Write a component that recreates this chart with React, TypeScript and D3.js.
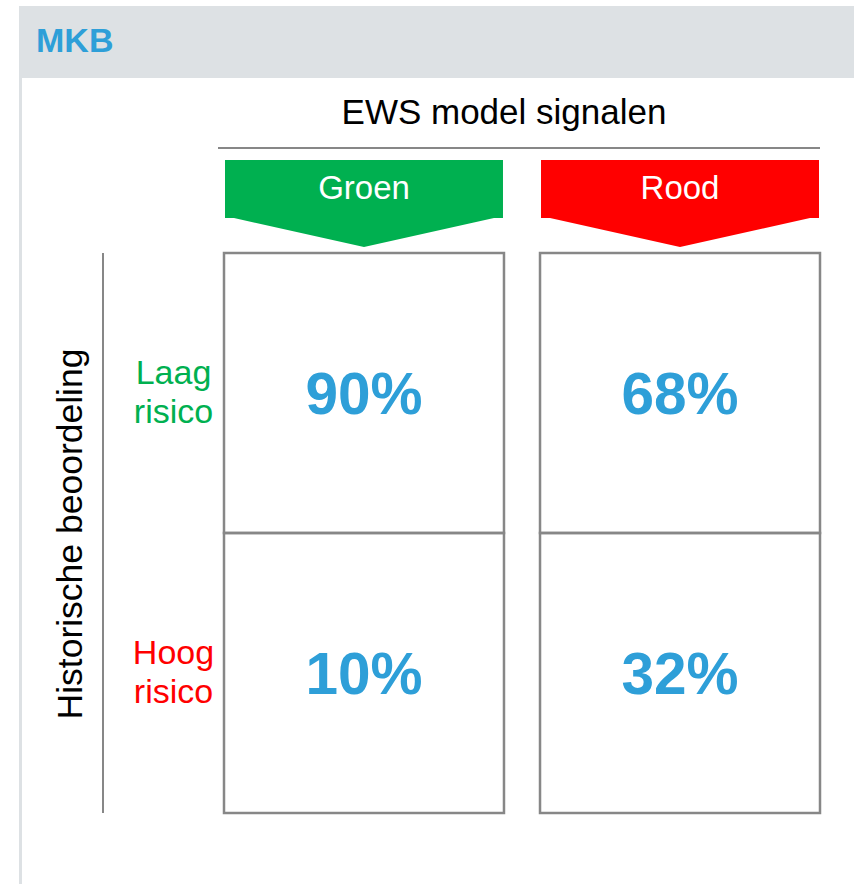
import React, { useEffect, useRef } from "react";
import * as d3 from "d3";

const title = "MKB";
const columnTitle = "EWS model signalen";
const rowTitle = "Historische beoordeling";
const columns = ["Groen", "Rood"];
const columnColors = ["#00b050", "#ff0000"];
const rows = ["Laag risico", "Hoog risico"];
const rowColors = ["#00b050", "#ff0000"];
const values = [
  [90, 68],
  [10, 32],
];

const App = () => {
  const svgRef = useRef<SVGSVGElement | null>(null);

  useEffect(() => {
    const width = 854;
    const height = 884;
    const font = "'Liberation Sans', Arial, sans-serif";
    const blue = "#2e9fd8";
    const grey = "#878787";

    const svg = d3.select(svgRef.current);
    svg.selectAll("*").remove();
    svg.attr("width", width).attr("height", height);

    // paneel achtergrond + kop
    svg.append("rect").attr("x", 0).attr("y", 0).attr("width", width).attr("height", height).attr("fill", "#fff");
    svg.append("rect").attr("x", 19).attr("y", 6).attr("width", width - 19).attr("height", 72).attr("fill", "#dde1e4");
    svg.append("rect").attr("x", 19).attr("y", 78).attr("width", 3).attr("height", height - 78).attr("fill", "#dde1e4");
    svg
      .append("text")
      .attr("x", 36)
      .attr("y", 52)
      .attr("font-family", font)
      .attr("font-weight", "bold")
      .attr("font-size", 34)
      .attr("fill", blue)
      .text(title);

    // schalen
    const x = d3.scaleBand().domain(columns).range([224, 820]).paddingInner(0.114);
    const y = d3.scaleBand().domain(rows).range([253, 813]).paddingInner(0);

    // kolomtitel
    svg
      .append("text")
      .attr("x", 504)
      .attr("y", 124)
      .attr("text-anchor", "middle")
      .attr("font-family", font)
      .attr("font-size", 35)
      .attr("fill", "#000")
      .text(columnTitle);
    svg
      .append("line")
      .attr("x1", 218)
      .attr("x2", 820)
      .attr("y1", 148)
      .attr("y2", 148)
      .attr("stroke", grey)
      .attr("stroke-width", 2);

    // pijlen
    const arrows = svg
      .selectAll(".arrow")
      .data(columns)
      .join("g")
      .attr("class", "arrow")
      .attr("transform", (d) => `translate(${x(d)},0)`);
    arrows
      .append("path")
      .attr("fill", (d, i) => columnColors[i])
      .attr("d", () => {
        const w = x.bandwidth();
        const p = d3.path();
        p.moveTo(1, 160);
        p.lineTo(w - 1, 160);
        p.lineTo(w - 1, 218);
        p.lineTo(w - 10, 218);
        p.lineTo(w / 2, 247);
        p.lineTo(10, 218);
        p.lineTo(1, 218);
        p.closePath();
        return p.toString();
      });
    arrows
      .append("text")
      .attr("x", x.bandwidth() / 2)
      .attr("y", 199)
      .attr("text-anchor", "middle")
      .attr("font-family", font)
      .attr("font-size", 33)
      .attr("fill", "#fff")
      .text((d) => d);

    // cellen
    const cells = rows.flatMap((r, ri) => columns.map((c, ci) => ({ r, c, v: values[ri][ci] })));
    const cell = svg
      .selectAll(".cell")
      .data(cells)
      .join("g")
      .attr("class", "cell")
      .attr("transform", (d) => `translate(${x(d.c)},${y(d.r)})`);
    cell
      .append("rect")
      .attr("width", x.bandwidth())
      .attr("height", y.bandwidth())
      .attr("fill", "none")
      .attr("stroke", grey)
      .attr("stroke-width", 2.5);
    cell
      .append("text")
      .attr("x", x.bandwidth() / 2)
      .attr("y", y.bandwidth() / 2)
      .attr("dy", "0.36em")
      .attr("text-anchor", "middle")
      .attr("font-family", font)
      .attr("font-weight", "bold")
      .attr("font-size", 58.5)
      .attr("fill", blue)
      .text((d) => `${d.v}%`);

    // rijlabels
    const rowLabel = svg
      .selectAll(".row-label")
      .data(rows)
      .join("text")
      .attr("class", "row-label")
      .attr("text-anchor", "middle")
      .attr("font-family", font)
      .attr("font-size", 34)
      .attr("fill", (d, i) => rowColors[i]);
    rowLabel
      .selectAll("tspan")
      .data((d) => d.split(" ").map((w) => ({ w, row: d })))
      .join("tspan")
      .attr("x", 173.5)
      .attr("y", (d, i) => (y(d.row) as number) + 131 + i * 39)
      .text((d) => d.w);

    // rijtitel + lijn
    svg
      .append("line")
      .attr("x1", 103)
      .attr("x2", 103)
      .attr("y1", 253)
      .attr("y2", 813)
      .attr("stroke", grey)
      .attr("stroke-width", 2);
    svg
      .append("text")
      .attr("transform", "translate(82,534) rotate(-90)")
      .attr("text-anchor", "middle")
      .attr("font-family", font)
      .attr("font-size", 35.5)
      .attr("fill", "#000")
      .text(rowTitle);
  }, []);

  return (
    <svg ref={svgRef} style={{ position: "absolute", left: 0, top: 0, display: "block" }} />
  );
};

export default App;
